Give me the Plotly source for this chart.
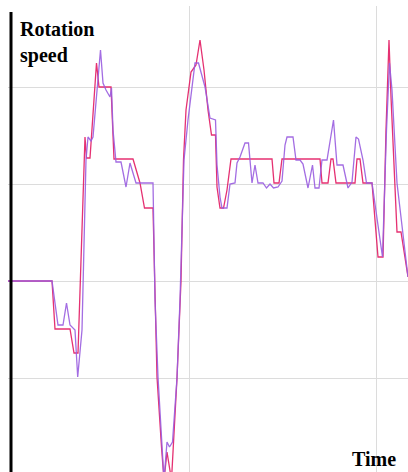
import plotly.graph_objects as go

# Time (arbitrary units) and rotation speed (arbitrary units)
time_red = [0, 44, 47, 62, 66, 70, 77, 78.5, 82, 88.5, 91, 103, 106, 125, 132, 136.5, 145,
            147, 149, 153.5, 156, 159, 163.5, 169, 173, 175.5, 178, 183, 188, 192, 196, 200,
            203.5, 207.5, 209, 212, 215.5, 219, 223, 264, 266, 271, 274, 312, 314, 320, 323,
            325, 328, 347, 349, 352, 355, 364, 370, 375, 378, 381, 383, 389, 393, 400]
speed_red = [0, 0, -48, -48, -72, -72, 144, 123, 123, 218, 194, 194, 122, 122, 98, 73, 73,
             -29, -96, -166, -199, -171, -199, -97, 0, 121, 171, 209, 216, 241, 211, 171,
             146, 146, 94, 73, 73, 91, 122, 122, 98, 98, 122, 122, 98, 98, 122,
             122, 98, 98, 122, 122, 98, 98, 24, 24, 151, 241, 184, 49, 49, 4]

time_purple = [0, 44, 50, 55, 58.5, 62, 67, 69.7, 74, 78, 80, 83, 85, 90, 92.5, 95, 98, 102,
               103.5, 105, 108, 113, 118, 122, 128, 145, 147, 150, 153.5, 156, 159, 161.5,
               164.5, 169, 172, 176, 180, 184, 187, 190.5, 197, 202, 207.5, 209, 212, 214,
               219, 222, 227, 229, 232, 237, 240.5, 244, 247, 250, 255, 258.5, 262, 265.5,
               270, 274, 277, 279, 285, 288, 292, 295, 300, 304.5, 307, 311, 314, 319, 325.5,
               329, 335, 340, 344, 348, 350.5, 355, 358.5, 364, 369, 374.5, 378.5, 380,
               381.5, 384, 389, 400]
speed_purple = [0, 0, -44, -44, -22, -44, -49, -96, -49, 121, 144, 140, 144, 206, 231, 198,
                191, 184, 193, 151, 119, 119, 94, 118, 98, 98, -19, -96, -159, -199, -161,
                -166, -161, -97, -19, 121, 161, 196, 218, 218, 194, 163, 161, 116, 84, 73,
                73, 97, 98, 118, 124, 138, 138, 98, 116, 98, 98, 93, 97, 93,
                94, 100, 136, 144, 144, 121, 121, 117, 93, 116, 93, 93, 121, 121, 161,
                116, 116, 93, 99, 144, 142, 121, 98, 98, 64, 24, 151, 184,
                218, 191, 98, 4]

fig = go.Figure()
fig.add_trace(go.Scatter(x=time_red, y=speed_red, mode="lines",
                         line=dict(color="#e31b63", width=1.3), opacity=0.9,
                         hoverinfo="skip", showlegend=False))
fig.add_trace(go.Scatter(x=time_purple, y=speed_purple, mode="lines",
                         line=dict(color="#9a5ee0", width=1.3), opacity=0.9,
                         hoverinfo="skip", showlegend=False))

fig.update_layout(
    width=408, height=472,
    margin=dict(l=8, r=0, t=6, b=0),
    paper_bgcolor="white", plot_bgcolor="white",
    showlegend=False,
    xaxis=dict(range=[0, 400], showgrid=True, gridcolor="#dcdcdc", gridwidth=1,
               tick0=181, dtick=187, showticklabels=False, ticks="",
               zeroline=False, showline=False, fixedrange=True),
    yaxis=dict(range=[-191, 275], showgrid=True, gridcolor="#dcdcdc", gridwidth=1,
               tick0=0, dtick=97, showticklabels=False, ticks="",
               zeroline=False, showline=False, fixedrange=True),
    shapes=[dict(type="line", xref="paper", yref="paper",
                 x0=0.0075, x1=0.0075, y0=0, y1=0.987,
                 line=dict(color="black", width=3))],
    annotations=[
        dict(text="<b>Rotation<br>speed</b>", xref="paper", yref="paper",
             x=0.025, y=0.978, xanchor="left", yanchor="top", showarrow=False,
             align="left",
             font=dict(family="Liberation Serif", size=20, color="black")),
        dict(text="<b>Time</b>", xref="paper", yref="paper",
             x=0.975, y=0.0, xanchor="right", yanchor="bottom", showarrow=False,
             font=dict(family="Liberation Serif", size=20, color="black")),
    ],
)

fig.write_html("out.html", config={"displayModeBar": False},
               post_script="document.body.style.margin='0';document.body.style.overflow='hidden';")
